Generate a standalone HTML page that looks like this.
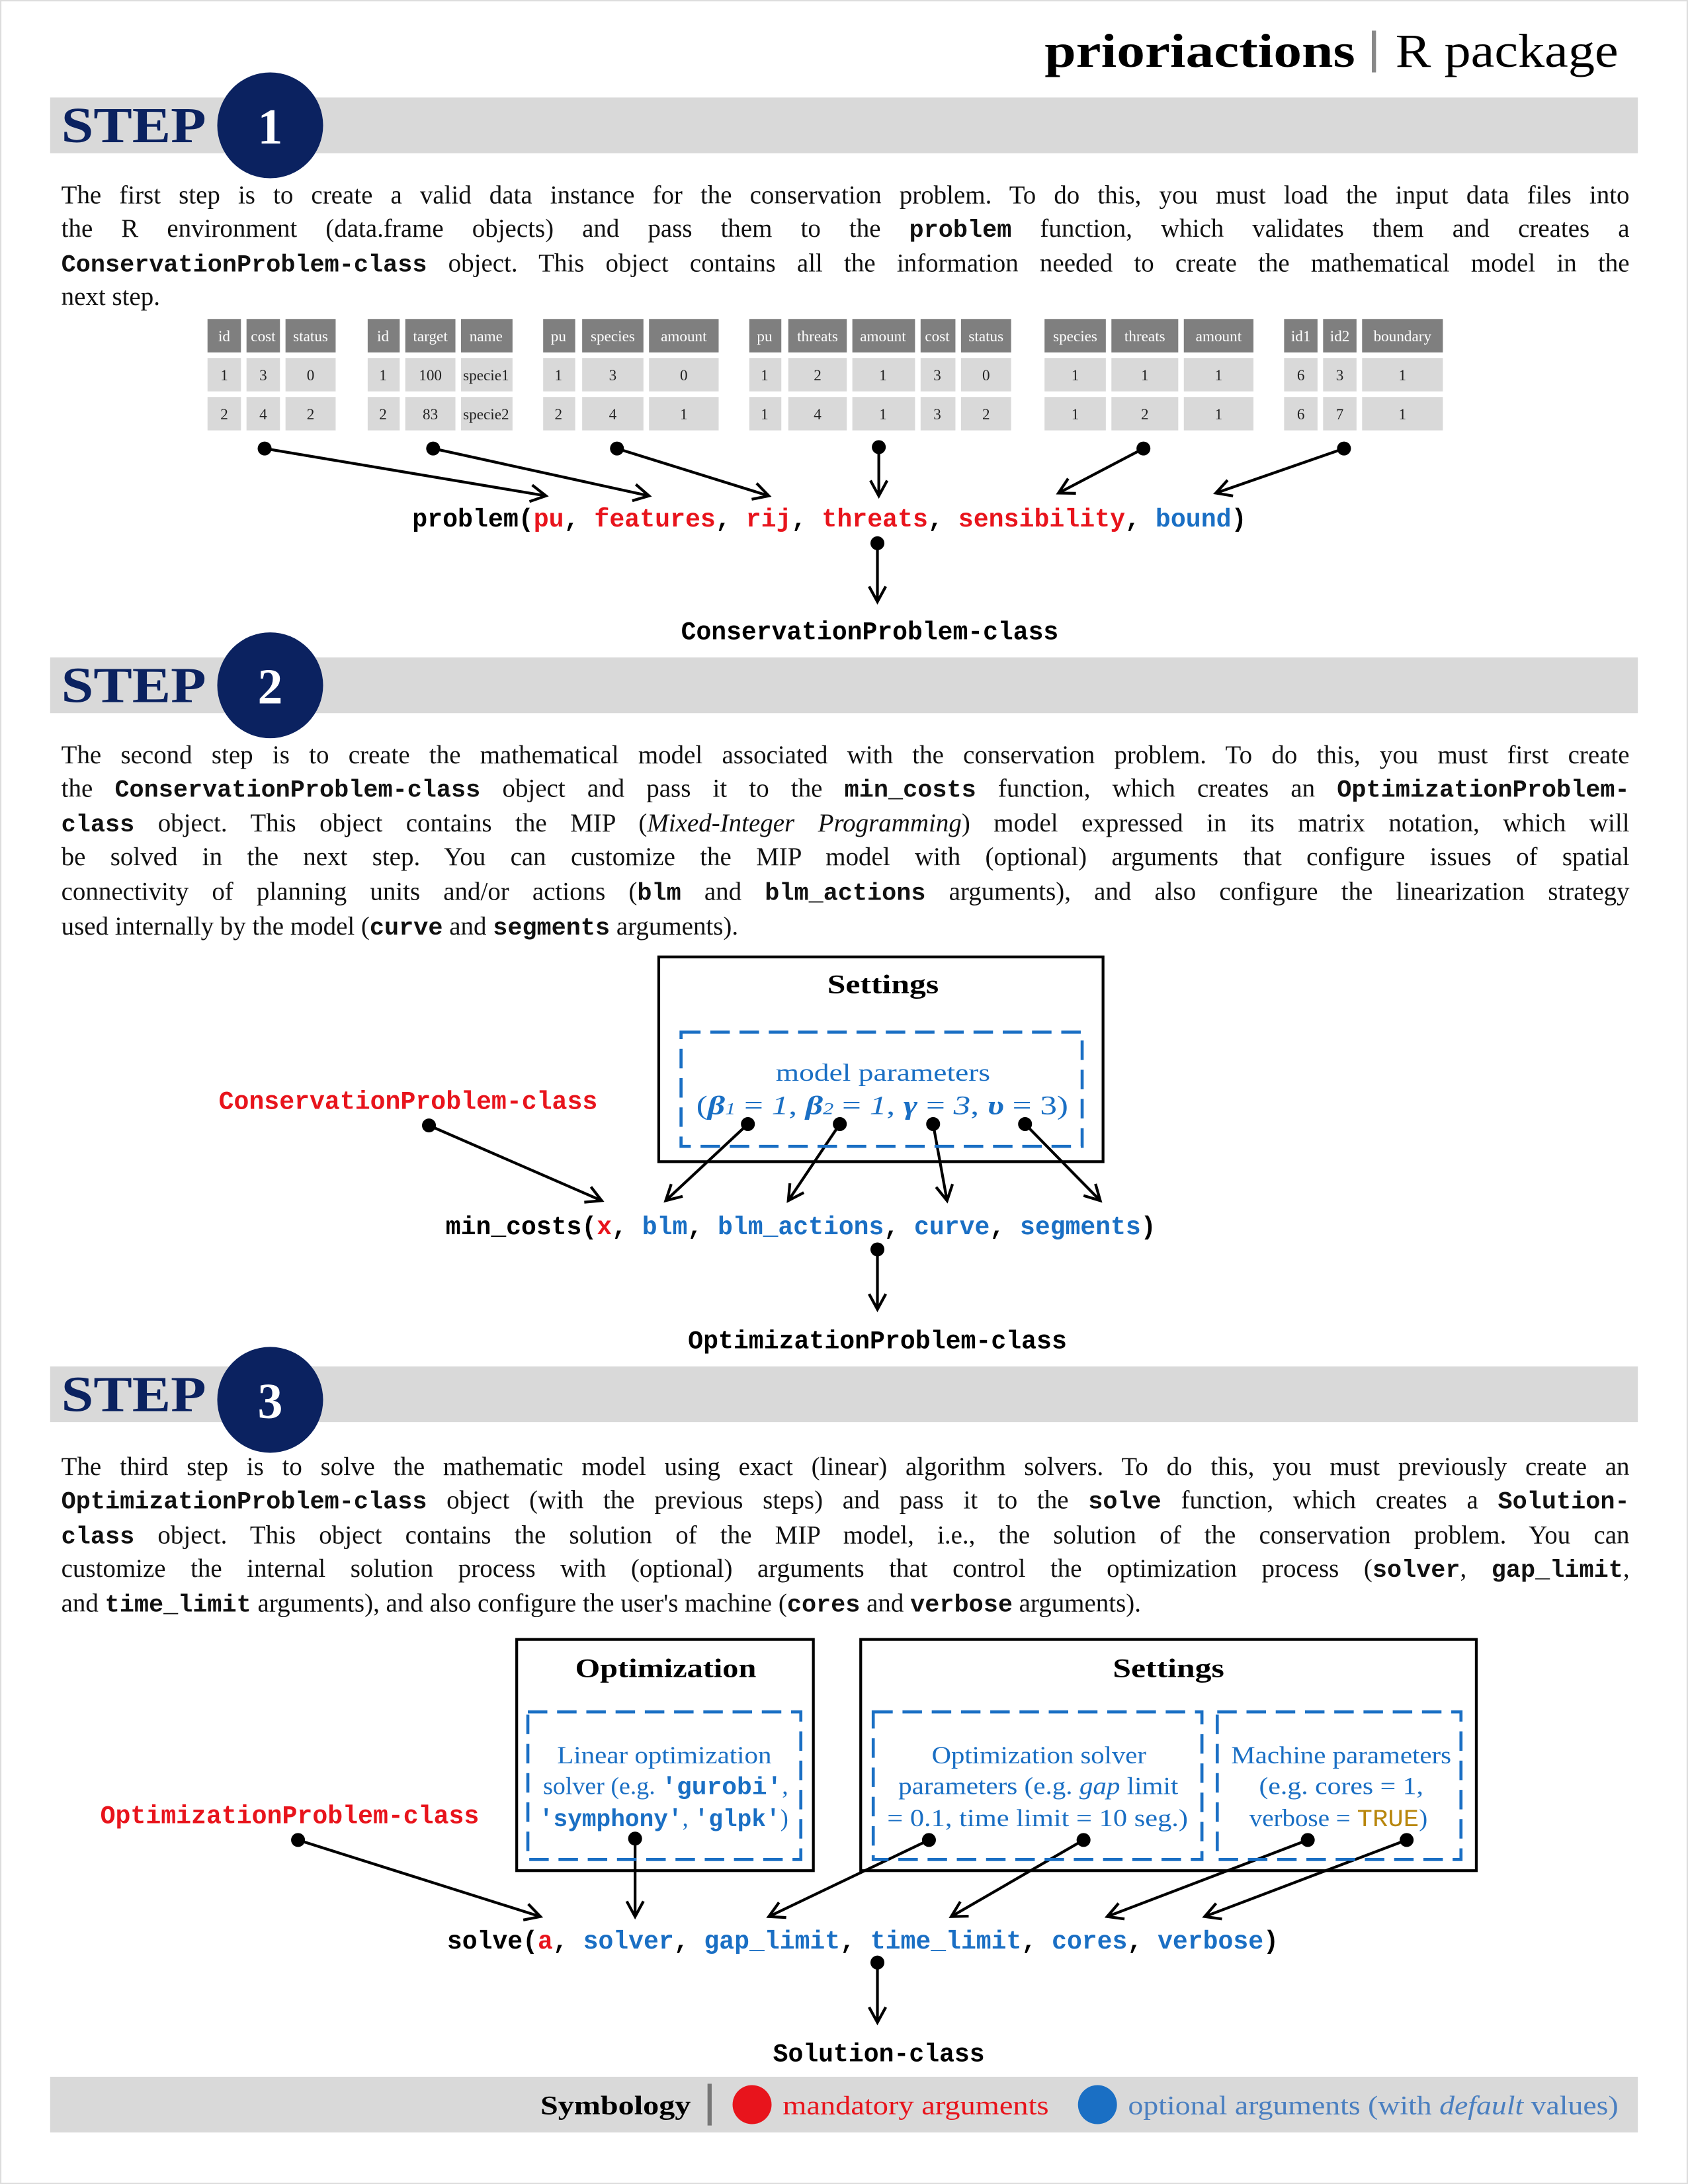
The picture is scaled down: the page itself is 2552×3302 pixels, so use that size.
<!DOCTYPE html>
<html><head><meta charset="utf-8"><style>
html,body{margin:0;padding:0;background:#fff;}
#wrap{width:2552px;height:3302px;overflow:hidden;position:relative;}
#pg{position:absolute;left:0;top:0;width:1212px;height:1568px;transform:scale(2.1056,2.1059);transform-origin:0 0;}
.p{position:absolute;left:44px;width:1126px;font-family:"Liberation Serif",serif;font-size:18.5px;line-height:24.65px;color:#111;}
.p div{text-align:justify;text-align-last:justify;height:24.65px;overflow:visible;}
.p div.l{text-align-last:left;}
.p b{font-family:"Liberation Mono",monospace;font-weight:bold;font-size:17.5px;}
svg{position:absolute;left:0;top:0;}
</style></head><body><div id="wrap"><div id="pg">
<svg width="1212" height="1568" viewBox="0 0 1212 1568" font-family="Liberation Serif, serif">
<defs>
<marker id="ah" markerWidth="14" markerHeight="14" refX="12" refY="7" orient="auto" markerUnits="userSpaceOnUse">
<path d="M1,1 L12,7 L1,13" fill="none" stroke="#000" stroke-width="2"/></marker>
</defs>
<rect x="0.5" y="0.5" width="1211" height="1567" fill="none" stroke="#ddd"/>
<text x="750" y="48" font-size="34" font-weight="bold" textLength="223" lengthAdjust="spacingAndGlyphs">prioriactions</text>
<rect x="985" y="22" width="3" height="30" fill="#888"/>
<text x="1002" y="48" font-size="34" textLength="160" lengthAdjust="spacingAndGlyphs">R package</text>
<!-- step bars -->
<g font-weight="bold" font-size="36" fill="#0b2260">
<rect x="36" y="70" width="1140" height="40" fill="#d9d9d9"/><text x="44" y="102" textLength="104" lengthAdjust="spacingAndGlyphs">STEP</text>
<circle cx="194" cy="90" r="38"/><text x="194" y="103" text-anchor="middle" fill="#fff">1</text>
<rect x="36" y="472" width="1140" height="40" fill="#d9d9d9"/><text x="44" y="504" textLength="104" lengthAdjust="spacingAndGlyphs">STEP</text>
<circle cx="194" cy="492" r="38"/><text x="194" y="505" text-anchor="middle" fill="#fff">2</text>
<rect x="36" y="981" width="1140" height="40" fill="#d9d9d9"/><text x="44" y="1013" textLength="104" lengthAdjust="spacingAndGlyphs">STEP</text>
<circle cx="194" cy="1005" r="38"/><text x="194" y="1018" text-anchor="middle" fill="#fff">3</text>
</g>
<!-- tables -->
<g font-size="11" text-anchor="middle">
<g fill="#7f7f7f">
<rect x="149" y="229" width="24" height="24"/><rect x="177" y="229" width="24" height="24"/><rect x="205" y="229" width="36" height="24"/>
<rect x="264" y="229" width="23" height="24"/><rect x="291" y="229" width="36" height="24"/><rect x="331" y="229" width="37" height="24"/>
<rect x="390" y="229" width="23" height="24"/><rect x="418" y="229" width="44" height="24"/><rect x="466" y="229" width="50" height="24"/>
<rect x="538" y="229" width="23" height="24"/><rect x="566" y="229" width="42" height="24"/><rect x="612" y="229" width="45" height="24"/><rect x="661" y="229" width="25" height="24"/><rect x="690" y="229" width="36" height="24"/>
<rect x="750" y="229" width="44" height="24"/><rect x="798" y="229" width="48" height="24"/><rect x="850" y="229" width="50" height="24"/>
<rect x="922" y="229" width="24" height="24"/><rect x="950" y="229" width="24" height="24"/><rect x="978" y="229" width="58" height="24"/>
</g>
<g fill="#d9d9d9">
<rect x="149" y="257" width="24" height="24"/><rect x="177" y="257" width="24" height="24"/><rect x="205" y="257" width="36" height="24"/>
<rect x="264" y="257" width="23" height="24"/><rect x="291" y="257" width="36" height="24"/><rect x="331" y="257" width="37" height="24"/>
<rect x="390" y="257" width="23" height="24"/><rect x="418" y="257" width="44" height="24"/><rect x="466" y="257" width="50" height="24"/>
<rect x="538" y="257" width="23" height="24"/><rect x="566" y="257" width="42" height="24"/><rect x="612" y="257" width="45" height="24"/><rect x="661" y="257" width="25" height="24"/><rect x="690" y="257" width="36" height="24"/>
<rect x="750" y="257" width="44" height="24"/><rect x="798" y="257" width="48" height="24"/><rect x="850" y="257" width="50" height="24"/>
<rect x="922" y="257" width="24" height="24"/><rect x="950" y="257" width="24" height="24"/><rect x="978" y="257" width="58" height="24"/>
<rect x="149" y="285" width="24" height="24"/><rect x="177" y="285" width="24" height="24"/><rect x="205" y="285" width="36" height="24"/>
<rect x="264" y="285" width="23" height="24"/><rect x="291" y="285" width="36" height="24"/><rect x="331" y="285" width="37" height="24"/>
<rect x="390" y="285" width="23" height="24"/><rect x="418" y="285" width="44" height="24"/><rect x="466" y="285" width="50" height="24"/>
<rect x="538" y="285" width="23" height="24"/><rect x="566" y="285" width="42" height="24"/><rect x="612" y="285" width="45" height="24"/><rect x="661" y="285" width="25" height="24"/><rect x="690" y="285" width="36" height="24"/>
<rect x="750" y="285" width="44" height="24"/><rect x="798" y="285" width="48" height="24"/><rect x="850" y="285" width="50" height="24"/>
<rect x="922" y="285" width="24" height="24"/><rect x="950" y="285" width="24" height="24"/><rect x="978" y="285" width="58" height="24"/>
</g>
<g fill="#fff">
<text x="161" y="245">id</text><text x="189" y="245">cost</text><text x="223" y="245">status</text>
<text x="275" y="245">id</text><text x="309" y="245">target</text><text x="349" y="245">name</text>
<text x="401" y="245">pu</text><text x="440" y="245">species</text><text x="491" y="245">amount</text>
<text x="549" y="245">pu</text><text x="587" y="245">threats</text><text x="634" y="245">amount</text><text x="673" y="245">cost</text><text x="708" y="245">status</text>
<text x="772" y="245">species</text><text x="822" y="245">threats</text><text x="875" y="245">amount</text>
<text x="934" y="245">id1</text><text x="962" y="245">id2</text><text x="1007" y="245">boundary</text>
</g>
<g fill="#222">
<text x="161" y="273">1</text><text x="189" y="273">3</text><text x="223" y="273">0</text>
<text x="161" y="301">2</text><text x="189" y="301">4</text><text x="223" y="301">2</text>
<text x="275" y="273">1</text><text x="309" y="273">100</text><text x="349" y="273">specie1</text>
<text x="275" y="301">2</text><text x="309" y="301">83</text><text x="349" y="301">specie2</text>
<text x="401" y="273">1</text><text x="440" y="273">3</text><text x="491" y="273">0</text>
<text x="401" y="301">2</text><text x="440" y="301">4</text><text x="491" y="301">1</text>
<text x="549" y="273">1</text><text x="587" y="273">2</text><text x="634" y="273">1</text><text x="673" y="273">3</text><text x="708" y="273">0</text>
<text x="549" y="301">1</text><text x="587" y="301">4</text><text x="634" y="301">1</text><text x="673" y="301">3</text><text x="708" y="301">2</text>
<text x="772" y="273">1</text><text x="822" y="273">1</text><text x="875" y="273">1</text>
<text x="772" y="301">1</text><text x="822" y="301">2</text><text x="875" y="301">1</text>
<text x="934" y="273">6</text><text x="962" y="273">3</text><text x="1007" y="273">1</text>
<text x="934" y="301">6</text><text x="962" y="301">7</text><text x="1007" y="301">1</text>
</g>
</g>
<!-- arrows -->
<g stroke="#000" stroke-width="2" fill="none" marker-end="url(#ah)">
<line x1="190" y1="322" x2="392" y2="356"/><line x1="311" y1="322" x2="466" y2="356"/><line x1="443" y1="322" x2="552" y2="356"/>
<line x1="631" y1="321" x2="631" y2="356"/><line x1="821" y1="322" x2="760" y2="354"/><line x1="965" y1="322" x2="873" y2="354"/>
<line x1="630" y1="390" x2="630" y2="432"/>
<line x1="308" y1="808" x2="432" y2="862"/><line x1="537" y1="807" x2="478" y2="862"/><line x1="603" y1="807" x2="566" y2="862"/><line x1="670" y1="807" x2="680" y2="862"/><line x1="736" y1="807" x2="790" y2="862"/>
<line x1="630" y1="897" x2="630" y2="940"/>
<line x1="214" y1="1321" x2="388" y2="1376"/><line x1="456" y1="1320" x2="456" y2="1376"/><line x1="667" y1="1321" x2="552" y2="1376"/><line x1="778" y1="1321" x2="683" y2="1376"/><line x1="939" y1="1321" x2="795" y2="1376"/><line x1="1010" y1="1321" x2="865" y2="1376"/>
<line x1="630" y1="1409" x2="630" y2="1452"/>
</g>
<g fill="#000">
<circle cx="190" cy="322" r="5"/><circle cx="311" cy="322" r="5"/><circle cx="443" cy="322" r="5"/><circle cx="631" cy="321" r="5"/><circle cx="821" cy="322" r="5"/><circle cx="965" cy="322" r="5"/><circle cx="630" cy="390" r="5"/>
<circle cx="308" cy="808" r="5"/><circle cx="537" cy="807" r="5"/><circle cx="603" cy="807" r="5"/><circle cx="670" cy="807" r="5"/><circle cx="736" cy="807" r="5"/><circle cx="630" cy="897" r="5"/>
<circle cx="214" cy="1321" r="5"/><circle cx="456" cy="1320" r="5"/><circle cx="667" cy="1321" r="5"/><circle cx="778" cy="1321" r="5"/><circle cx="939" cy="1321" r="5"/><circle cx="1010" cy="1321" r="5"/><circle cx="630" cy="1409" r="5"/>
</g>
<!-- code lines -->
<g font-family="Liberation Mono, monospace" font-weight="bold" font-size="18.5">
<text x="296" y="378" textLength="599" lengthAdjust="spacingAndGlyphs">problem(<tspan fill="#e8141c">pu</tspan>, <tspan fill="#e8141c">features</tspan>, <tspan fill="#e8141c">rij</tspan>, <tspan fill="#e8141c">threats</tspan>, <tspan fill="#e8141c">sensibility</tspan>, <tspan fill="#1a6fc4">bound</tspan>)</text>
<text x="489" y="459" textLength="271" lengthAdjust="spacingAndGlyphs">ConservationProblem-class</text>
<text x="157" y="796" fill="#e8141c" textLength="272" lengthAdjust="spacingAndGlyphs">ConservationProblem-class</text>
<text x="320" y="886" textLength="510" lengthAdjust="spacingAndGlyphs">min_costs(<tspan fill="#e8141c">x</tspan>, <tspan fill="#1a6fc4">blm</tspan>, <tspan fill="#1a6fc4">blm_actions</tspan>, <tspan fill="#1a6fc4">curve</tspan>, <tspan fill="#1a6fc4">segments</tspan>)</text>
<text x="494" y="968" textLength="272" lengthAdjust="spacingAndGlyphs">OptimizationProblem-class</text>
<text x="72" y="1309" fill="#e8141c" textLength="272" lengthAdjust="spacingAndGlyphs">OptimizationProblem-class</text>
<text x="321" y="1399" textLength="597" lengthAdjust="spacingAndGlyphs">solve(<tspan fill="#e8141c">a</tspan>, <tspan fill="#1a6fc4">solver</tspan>, <tspan fill="#1a6fc4">gap_limit</tspan>, <tspan fill="#1a6fc4">time_limit</tspan>, <tspan fill="#1a6fc4">cores</tspan>, <tspan fill="#1a6fc4">verbose</tspan>)</text>
<text x="555" y="1480" textLength="152" lengthAdjust="spacingAndGlyphs">Solution-class</text>
</g>
<!-- boxes -->
<g fill="none" stroke="#000" stroke-width="2">
<rect x="473" y="687" width="319" height="147"/>
<rect x="371" y="1177" width="213" height="166"/>
<rect x="618" y="1177" width="442" height="166"/>
</g>
<g fill="none" stroke="#1a6fc4" stroke-width="2.2" stroke-dasharray="14,7">
<rect x="489" y="741" width="288" height="82"/>
<rect x="379" y="1229" width="196" height="106"/>
<rect x="627" y="1229" width="236" height="106"/>
<rect x="874" y="1229" width="175" height="106"/>
</g>
<g font-weight="bold" font-size="19">
<text x="594" y="713" textLength="80" lengthAdjust="spacingAndGlyphs">Settings</text>
<text x="413" y="1204" textLength="130" lengthAdjust="spacingAndGlyphs">Optimization</text>
<text x="799" y="1204" textLength="80" lengthAdjust="spacingAndGlyphs">Settings</text>
</g>
<g fill="#1a6fc4" font-size="17.5">
<text x="557" y="776" textLength="154" lengthAdjust="spacingAndGlyphs">model parameters</text>
<text x="500" y="800" font-size="19" textLength="267" lengthAdjust="spacingAndGlyphs">(<tspan font-style="italic" font-weight="bold">β</tspan><tspan font-style="italic" font-size="12">1</tspan> = <tspan font-style="italic">1</tspan>, <tspan font-style="italic" font-weight="bold">β</tspan><tspan font-style="italic" font-size="12">2</tspan> = <tspan font-style="italic">1</tspan>, <tspan font-style="italic" font-weight="bold">γ</tspan> = <tspan font-style="italic">3</tspan>, <tspan font-style="italic" font-weight="bold">υ</tspan> = 3)</text>
<text x="400" y="1266" textLength="154" lengthAdjust="spacingAndGlyphs">Linear optimization</text>
<text x="390" y="1288" textLength="176" lengthAdjust="spacingAndGlyphs">solver (e.g. <tspan font-family="Liberation Mono, monospace" font-weight="bold">'gurobi'</tspan>,</text>
<text x="387" y="1311" textLength="179" lengthAdjust="spacingAndGlyphs"><tspan font-family="Liberation Mono, monospace" font-weight="bold">'symphony'</tspan>, <tspan font-family="Liberation Mono, monospace" font-weight="bold">'glpk'</tspan>)</text>
<text x="669" y="1266" textLength="154" lengthAdjust="spacingAndGlyphs">Optimization solver</text>
<text x="645" y="1288" textLength="201" lengthAdjust="spacingAndGlyphs">parameters (e.g. <tspan font-style="italic">gap</tspan> limit</text>
<text x="637" y="1311" textLength="216" lengthAdjust="spacingAndGlyphs">= 0.1, time limit = 10 seg.)</text>
<text x="884" y="1266" textLength="158" lengthAdjust="spacingAndGlyphs">Machine parameters</text>
<text x="904" y="1288" textLength="118" lengthAdjust="spacingAndGlyphs">(e.g. cores = 1,</text>
<text x="897" y="1311" textLength="128" lengthAdjust="spacingAndGlyphs">verbose = <tspan fill="#b8860b" font-family="Liberation Mono, monospace">TRUE</tspan>)</text>
</g>
<!-- symbology -->
<rect x="36" y="1491" width="1140" height="40" fill="#d9d9d9"/>
<text x="388" y="1518" font-weight="bold" font-size="19" textLength="108" lengthAdjust="spacingAndGlyphs">Symbology</text>
<rect x="508" y="1496" width="3" height="30" fill="#777"/>
<circle cx="540" cy="1511" r="14" fill="#e8141c"/>
<text x="562" y="1518" fill="#e8141c" font-size="19" textLength="191" lengthAdjust="spacingAndGlyphs">mandatory arguments</text>
<circle cx="788" cy="1511" r="14" fill="#1a6fc4"/>
<text x="810" y="1518" fill="#4a7fc0" font-size="19" textLength="352" lengthAdjust="spacingAndGlyphs">optional arguments (with <tspan font-style="italic">default</tspan> values)</text>
</svg>
<div class="p" style="top:128.5px">
<div>The first step is to create a valid data instance for the conservation problem. To do this, you must load the input data files into</div>
<div>the R environment (data.frame objects) and pass them to the <b>problem</b> function, which validates them and creates a</div>
<div><b>ConservationProblem-class</b> object. This object contains all the information needed to create the mathematical model in the</div>
<div class="l">next step.</div>
</div>
<div class="p" style="top:530.5px">
<div>The second step is to create the mathematical model associated with the conservation problem. To do this, you must first create</div>
<div>the <b>ConservationProblem-class</b> object and pass it to the <b>min_costs</b> function, which creates an <b>OptimizationProblem-</b></div>
<div><b>class</b> object. This object contains the MIP (<i>Mixed-Integer Programming</i>) model expressed in its matrix notation, which will</div>
<div>be solved in the next step. You can customize the MIP model with (optional) arguments that configure issues of spatial</div>
<div>connectivity of planning units and/or actions (<b>blm</b> and <b>blm_actions</b> arguments), and also configure the linearization strategy</div>
<div class="l">used internally by the model (<b>curve</b> and <b>segments</b> arguments).</div>
</div>
<div class="p" style="top:1041.5px">
<div>The third step is to solve the mathematic model using exact (linear) algorithm solvers. To do this, you must previously create an</div>
<div><b>OptimizationProblem-class</b> object (with the previous steps) and pass it to the <b>solve</b> function, which creates a <b>Solution-</b></div>
<div><b>class</b> object. This object contains the solution of the MIP model, i.e., the solution of the conservation problem. You can</div>
<div>customize the internal solution process with (optional) arguments that control the optimization process (<b>solver</b>, <b>gap_limit</b>,</div>
<div class="l">and <b>time_limit</b> arguments), and also configure the user's machine (<b>cores</b> and <b>verbose</b> arguments).</div>
</div>
</div></div></body></html>
